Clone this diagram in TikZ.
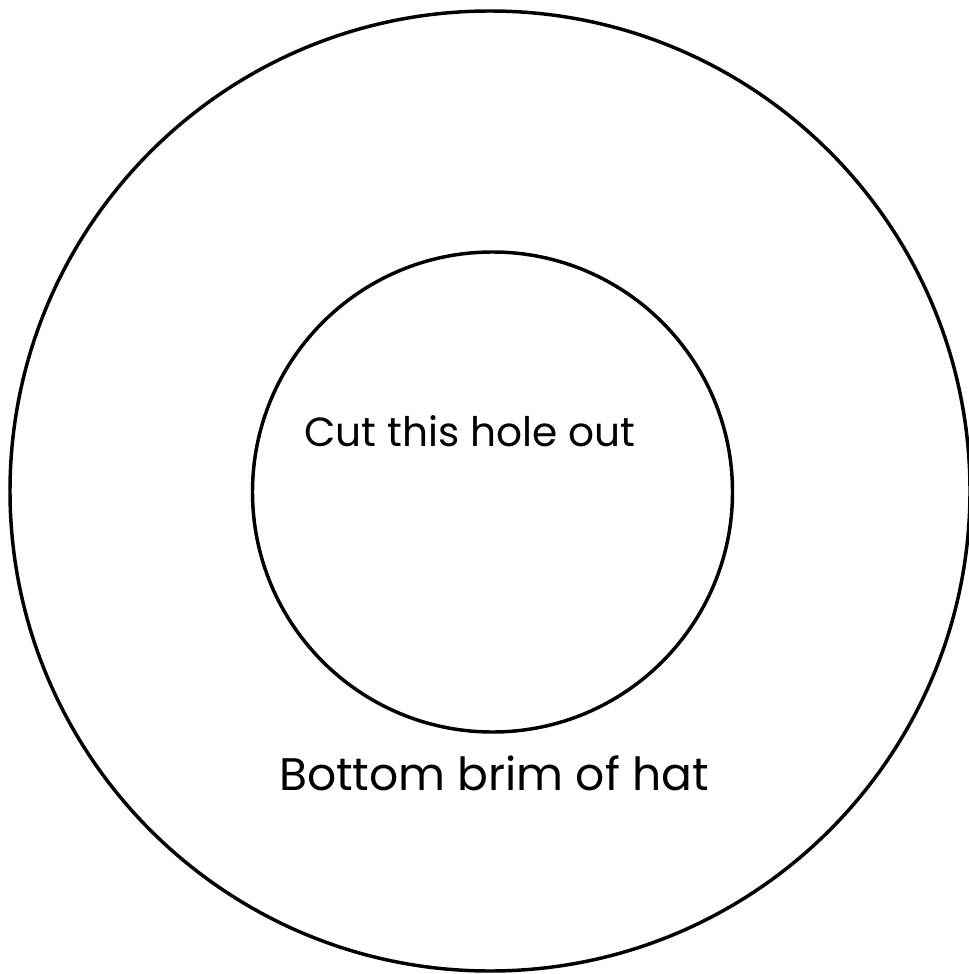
\documentclass[tikz,border=0pt]{standalone}
\usepackage{fontspec}
\setmainfont{Poppins}
\begin{document}
\begin{tikzpicture}[x=0.75pt, y=-0.75pt, brim/.style={circle, draw, line width=2.6pt, inner sep=0pt, fill=none}, label/.style={anchor=base, inner sep=0pt}]
            \useasboundingbox (0,0) rectangle (969,974);
            \node[brim, minimum size=720pt] (outer) at (490,491) {};
            \node[brim, minimum size=360pt] (hole) at (492.5,492) {};
            \node[label, font=\fontsize{30.5}{36}\selectfont] (cut) at (470,446) {Cut this hole out};
            \node[label, font=\fontsize{34.2}{41}\selectfont] (bottom) at (494,790) {Bottom brim of hat};
        \end{tikzpicture}
\end{document}
